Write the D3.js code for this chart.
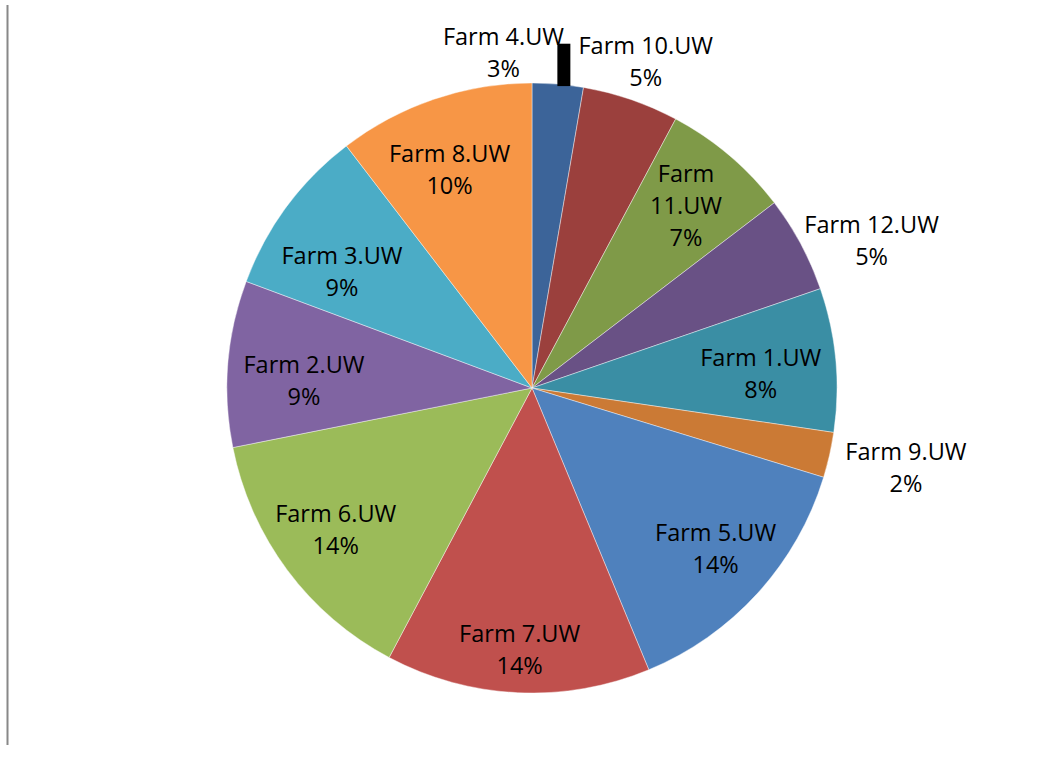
<!DOCTYPE html>
<html>
<head>
<meta charset="utf-8">
<script src="https://cdn.jsdelivr.net/npm/d3@7"></script>
<style>
  body { margin: 0; background: #fff; }
  svg { display: block; }
</style>
</head>
<body>
<svg id="chart" width="1045" height="767"></svg>
<script>
// slices in clockwise order from 12 o'clock
var farms  = ["Farm 4.UW", "Farm 10.UW", "Farm 11.UW", "Farm 12.UW", "Farm 1.UW", "Farm 9.UW",
              "Farm 5.UW", "Farm 7.UW", "Farm 6.UW", "Farm 2.UW", "Farm 3.UW", "Farm 8.UW"];
var shares = [2.7, 5.1, 6.8, 5.1, 7.6, 2.4, 14.0, 14.0, 14.1, 8.8, 8.9, 10.4];
var colors = ["#3C6499", "#9B403D", "#7F9A48", "#695185", "#3A8EA4", "#CB7A35",
              "#4F81BD", "#C0504D", "#9BBB59", "#8064A2", "#4BACC6", "#F79646"];

var width = 1045, height = 767;
var cx = 532, cy = 388, radius = 305;

// label placement: [radius factor, dx, dy] relative to slice mid-angle
var labelLayout = {
    "Farm 4.UW":  [1.10, -57, -1],
    "Farm 10.UW": [1.13, 2, 0],
    "Farm 11.UW": [0.78, 0, -1],
    "Farm 12.UW": [1.20, 17, 25],
    "Farm 1.UW":  [0.75, 1, 7],
    "Farm 9.UW":  [1.25, 2, -4],
    "Farm 5.UW":  [0.80, 3, -4],
    "Farm 7.UW":  [0.86, 0, 0],
    "Farm 6.UW":  [0.79, -3, -2],
    "Farm 2.UW":  [0.75, 0, 11],
    "Farm 3.UW":  [0.73, -11, 16],
    "Farm 8.UW":  [0.76, -8, 1]
};

var data = farms.map(function (f, i) { return {name: f, value: shares[i], color: colors[i]}; });
var total = d3.sum(shares);
var pct = function (v) { return d3.format(".0%")(v / total); };

var svg = d3.select("#chart");

// left border line
svg.append("line")
    .attr("x1", 7.5).attr("x2", 7.5)
    .attr("y1", 5).attr("y2", 745)
    .attr("stroke", "#888").attr("stroke-width", 2);

var pie = d3.pie().sort(null).value(function (d) { return d.value; });
var arc = d3.arc().innerRadius(0).outerRadius(radius);
var arcs = pie(data);

var g = svg.append("g").attr("transform", "translate(" + cx + "," + cy + ")");

g.selectAll("path.slice")
    .data(arcs)
    .enter()
    .append("path")
    .attr("class", "slice")
    .attr("d", arc)
    .attr("fill", function (d) { return d.data.color; })
    .attr("stroke", "#fff")
    .attr("stroke-opacity", 0.6)
    .attr("stroke-width", 0.7);

function labelPoint(d) {
    var lay = labelLayout[d.data.name];
    var a = (d.startAngle + d.endAngle) / 2;
    var r = radius * lay[0];
    return [r * Math.sin(a) + lay[1], -r * Math.cos(a) + lay[2]];
}

// thick leader for the smallest top slice
var first = arcs[0];
var am = (first.startAngle + first.endAngle) / 2;
var lx = radius * Math.sin(am) + 6;
g.append("line")
    .attr("x1", lx).attr("x2", lx)
    .attr("y1", -radius * Math.cos(am) + 2)
    .attr("y2", labelPoint(first)[1] - 9)
    .attr("stroke", "#000")
    .attr("stroke-width", 13);

var lineH = 32;
var labels = g.selectAll("text.lbl")
    .data(arcs)
    .enter()
    .append("text")
    .attr("class", "lbl")
    .attr("text-anchor", "middle")
    .attr("font-family", "'Open Sans', sans-serif")
    .attr("font-size", 23.5)
    .attr("fill", "#000")
    .attr("transform", function (d) {
        var p = labelPoint(d);
        return "translate(" + p[0] + "," + p[1] + ")";
    });

labels.each(function (d) {
    var lines = d.data.name === "Farm 11.UW"
        ? ["Farm", "11.UW", pct(d.data.value)]
        : [d.data.name, pct(d.data.value)];
    var t = d3.select(this);
    var y0 = -(lines.length - 1) * lineH / 2;
    lines.forEach(function (s, i) {
        t.append("tspan")
            .attr("x", 0)
            .attr("y", y0 + i * lineH)
            .attr("dy", "0.36em")
            .text(s);
    });
});
</script>
</body>
</html>
